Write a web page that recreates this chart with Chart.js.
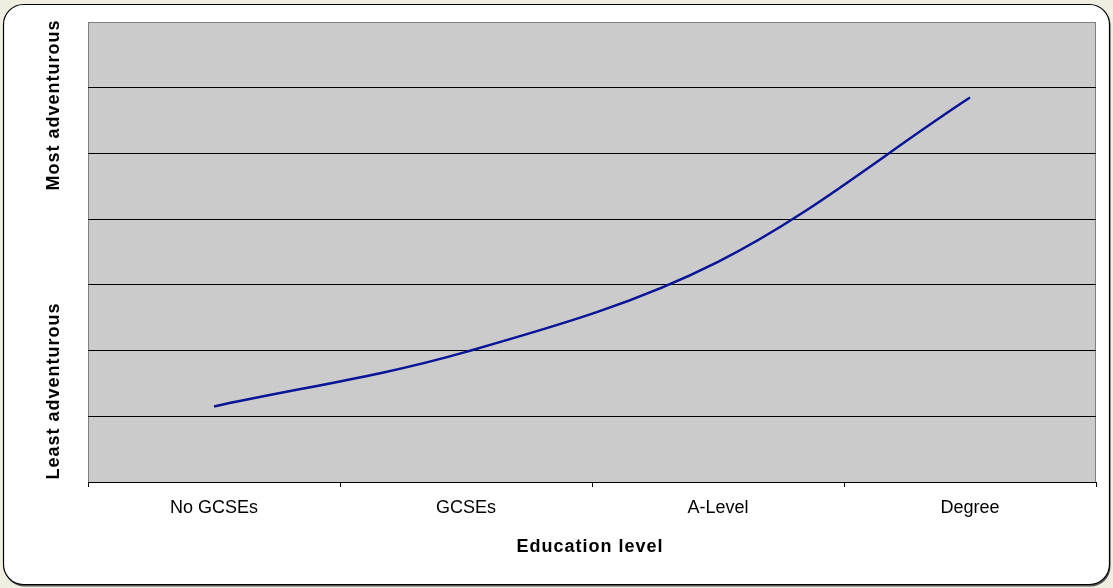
<!DOCTYPE html>
<html>
<head>
<meta charset="utf-8">
<script src="https://cdn.jsdelivr.net/npm/chart.js@4.4.1/dist/chart.umd.min.js"></script>
<style>
  html, body { margin: 0; padding: 0; background: #efeee0; }
  #wrap { position: relative; width: 1113px; height: 588px; }
  canvas { display: block; }
</style>
</head>
<body>
<div id="wrap"><canvas id="c" width="1113" height="588"></canvas></div>
<script>
// ---- Data ----
const categories = ["No GCSEs", "GCSEs", "A-Level", "Degree"];
const adventurousness = [1.15, 1.98, 3.35, 5.85];
const yMin = 0;
const yMax = 7;
const xTitle = "Education level";
const yTitleTop = "Most adventurous";
const yTitleBottom = "Least adventurous";

const FONT = "'Liberation Sans', Arial, sans-serif";

function roundRect(ctx, x, y, w, h, r) {
  ctx.beginPath();
  ctx.moveTo(x + r, y);
  ctx.lineTo(x + w - r, y);
  ctx.arcTo(x + w, y, x + w, y + r, r);
  ctx.lineTo(x + w, y + h - r);
  ctx.arcTo(x + w, y + h, x + w - r, y + h, r);
  ctx.lineTo(x + r, y + h);
  ctx.arcTo(x, y + h, x, y + h - r, r);
  ctx.lineTo(x, y + r);
  ctx.arcTo(x, y, x + r, y, r);
  ctx.closePath();
}

const framePlugin = {
  id: 'frame',
  beforeDraw(chart) {
    const ctx = chart.ctx;
    const a = chart.chartArea;
    ctx.save();
    ctx.fillStyle = '#efeee0';
    ctx.fillRect(0, 0, chart.width, chart.height);
    // shadow
    roundRect(ctx, 4.5, 5.5, 1106, 581, 20);
    ctx.fillStyle = '#555555';
    ctx.fill();
    // box
    roundRect(ctx, 3.5, 4.5, 1106, 580, 20);
    ctx.fillStyle = '#ffffff';
    ctx.fill();
    ctx.lineWidth = 1.2;
    ctx.strokeStyle = '#000000';
    ctx.stroke();
    // plot area
    ctx.fillStyle = '#cbcbcb';
    ctx.fillRect(a.left, a.top, a.right - a.left, a.bottom - a.top);
    ctx.strokeStyle = '#808080';
    ctx.lineWidth = 1;
    ctx.strokeRect(Math.round(a.left) + 0.5, Math.round(a.top) + 0.5,
                   Math.round(a.right - a.left) - 1, Math.round(a.bottom - a.top));
    ctx.restore();
  },
  afterDraw(chart) {
    const ctx = chart.ctx;
    const a = chart.chartArea;
    ctx.save();
    ctx.fillStyle = '#000000';
    ctx.font = 'bold 18px ' + FONT;
    try { ctx.letterSpacing = '1px'; } catch (e) {}
    ctx.textAlign = 'center';
    ctx.textBaseline = 'middle';
    ctx.fillText(xTitle, (a.left + a.right) / 2 - 2, 547);
    ctx.translate(54, 0);
    ctx.rotate(-Math.PI / 2);
    ctx.fillText(yTitleTop, -105, 0);
    ctx.fillText(yTitleBottom, -391, 0);
    ctx.restore();
  }
};

new Chart(document.getElementById('c'), {
  type: 'line',
  data: {
    labels: categories,
    datasets: [{
      data: adventurousness,
      borderColor: '#0a1496',
      borderWidth: 2.5,
      pointRadius: 0,
      pointHoverRadius: 0,
      tension: 0.35,
      fill: false
    }]
  },
  options: {
    responsive: false,
    animation: false,
    events: [],
    layout: { padding: { left: 88, top: 22, right: 17, bottom: 0 } },
    plugins: {
      legend: { display: false },
      tooltip: { enabled: false },
      title: { display: false }
    },
    scales: {
      x: {
        offset: true,
        afterFit(scale) { scale.height = 106; },
        grid: {
          offset: true,
          drawOnChartArea: false,
          drawTicks: true,
          tickLength: 5,
          color: '#000000',
          lineWidth: 1
        },
        border: { display: true, color: '#000000', width: 1 },
        ticks: {
          color: '#000000',
          font: { family: FONT, size: 18 },
          padding: 10,
          maxRotation: 0,
          autoSkip: false
        },
        title: { display: false }
      },
      y: {
        min: yMin,
        max: yMax,
        afterFit(scale) { scale.width = 0; },
        ticks: { display: false, stepSize: 1 },
        border: { display: false },
        grid: {
          drawTicks: false,
          color(ctx) { return ctx.tick && ctx.tick.value === yMax ? '#808080' : '#000000'; },
          lineWidth: 1
        }
      }
    }
  },
  plugins: [framePlugin]
});
</script>
</body>
</html>
